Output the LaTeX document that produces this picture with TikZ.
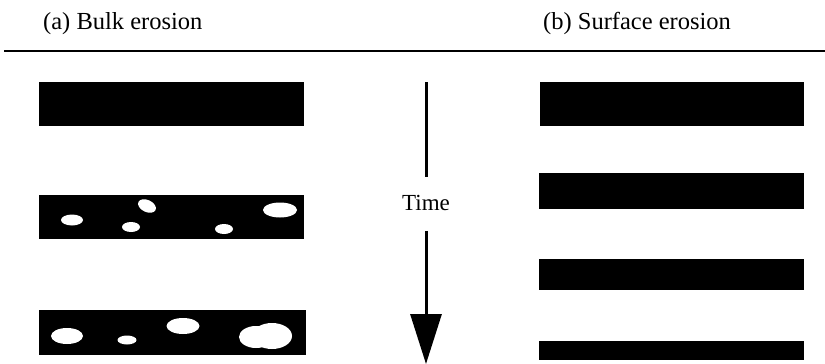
\documentclass[tikz,border=0pt]{standalone}
\usepackage{fontspec}
\setmainfont{Liberation Serif}
\usetikzlibrary{arrows.meta}

\begin{document}
\begin{tikzpicture}[x=1pt,y=-1pt,
  label/.style={font=\fontsize{24.5}{28}\selectfont,inner sep=0pt,anchor=base west},
  hole/.style={fill=white}]

\useasboundingbox (0,0) rectangle (825,364);

% Headings and rule
\node[label] (bulk) at (43,30) {(a) Bulk erosion};
\node[label] (surf) at (543,30) {(b) Surface erosion};
\draw[line width=2.5pt] (4,51)--(825,51);

% Bulk erosion: same size, holes grow
\fill (39,82) rectangle (304,126);
\fill (39,195) rectangle (304,239);
\fill (39,310) rectangle (306,355);

% holes, second bar
\fill[hole] (72,220) ellipse [x radius=11,y radius=5.5];
\fill[hole,rotate around={-25:(147,206)}] (147,206) ellipse [x radius=9.5,y radius=6];
\fill[hole] (131,227) ellipse [x radius=9,y radius=5];
\fill[hole] (224,229) ellipse [x radius=9,y radius=5];
\fill[hole] (280,210) ellipse [x radius=17,y radius=7.5];

% holes, third bar
\fill[hole] (67,336) ellipse [x radius=16,y radius=8];
\fill[hole] (127,340) ellipse [x radius=9.5,y radius=4.5];
\fill[hole] (183,326) ellipse [x radius=16.5,y radius=8];
\fill[hole] (256,337) ellipse [x radius=17,y radius=11];
\fill[hole] (272,336) ellipse [x radius=20,y radius=13];

% Time arrow
\coordinate (tTop) at (426,82);
\node[font=\fontsize{23}{26}\selectfont,inner sep=0pt] (time) at (426,203) {Time};
\coordinate (tEnd) at (426,364);
\draw[line width=3pt,shorten >=18pt] (tTop)--(time);
\draw[line width=3pt,shorten <=20pt,-{Triangle[length=50pt,width=31pt]}] (time)--(tEnd);

% Surface erosion: bars get thinner
\fill (540,82) rectangle (804,126);
\fill (539,173) rectangle (804,209);
\fill (539,259) rectangle (804,290);
\fill (539,341) rectangle (804,360);

\end{tikzpicture}
\end{document}
